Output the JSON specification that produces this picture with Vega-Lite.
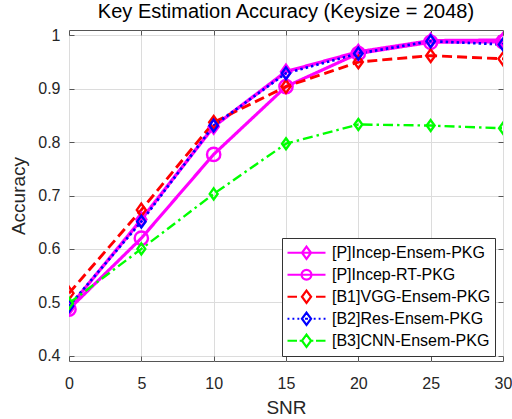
{
  "$schema": "https://vega.github.io/schema/vega-lite/v6.json",
  "width": 434,
  "height": 331,
  "autosize": "none",
  "padding": {"left": 69, "top": 30, "right": 9, "bottom": 58},
  "background": "white",
  "config": {
    "font": "Liberation Sans",
    "view": {"stroke": "#555555", "strokeWidth": 1},
    "axis": {
      "labelFont": "Liberation Sans",
      "titleFont": "Liberation Sans",
      "labelColor": "#262626",
      "titleColor": "#262626",
      "labelFontSize": 16,
      "titleFontSize": 19,
      "titleFontWeight": "normal",
      "gridColor": "#dcdcdc",
      "gridWidth": 1,
      "tickColor": "#555555",
      "domain": false,
      "labelFlush": false
    }
  },
  "title": {
    "text": "Key Estimation Accuracy (Keysize = 2048)",
    "font": "Liberation Sans",
    "fontSize": 20,
    "fontWeight": "normal",
    "color": "#000000",
    "offset": 5
  },
  "data": {
    "values": [
      {"snr": 0, "acc": 0.490, "series": "[P]Incep-Ensem-PKG"},
      {"snr": 5, "acc": 0.655, "series": "[P]Incep-Ensem-PKG"},
      {"snr": 10, "acc": 0.829, "series": "[P]Incep-Ensem-PKG"},
      {"snr": 15, "acc": 0.932, "series": "[P]Incep-Ensem-PKG"},
      {"snr": 20, "acc": 0.969, "series": "[P]Incep-Ensem-PKG"},
      {"snr": 25, "acc": 0.990, "series": "[P]Incep-Ensem-PKG"},
      {"snr": 30, "acc": 0.991, "series": "[P]Incep-Ensem-PKG"},
      {"snr": 0, "acc": 0.487, "series": "[P]Incep-RT-PKG"},
      {"snr": 5, "acc": 0.620, "series": "[P]Incep-RT-PKG"},
      {"snr": 10, "acc": 0.777, "series": "[P]Incep-RT-PKG"},
      {"snr": 15, "acc": 0.904, "series": "[P]Incep-RT-PKG"},
      {"snr": 20, "acc": 0.966, "series": "[P]Incep-RT-PKG"},
      {"snr": 25, "acc": 0.987, "series": "[P]Incep-RT-PKG"},
      {"snr": 30, "acc": 0.988, "series": "[P]Incep-RT-PKG"},
      {"snr": 0, "acc": 0.517, "series": "[B1]VGG-Ensem-PKG"},
      {"snr": 5, "acc": 0.673, "series": "[B1]VGG-Ensem-PKG"},
      {"snr": 10, "acc": 0.837, "series": "[B1]VGG-Ensem-PKG"},
      {"snr": 15, "acc": 0.904, "series": "[B1]VGG-Ensem-PKG"},
      {"snr": 20, "acc": 0.950, "series": "[B1]VGG-Ensem-PKG"},
      {"snr": 25, "acc": 0.962, "series": "[B1]VGG-Ensem-PKG"},
      {"snr": 30, "acc": 0.956, "series": "[B1]VGG-Ensem-PKG"},
      {"snr": 0, "acc": 0.493, "series": "[B2]Res-Ensem-PKG"},
      {"snr": 5, "acc": 0.651, "series": "[B2]Res-Ensem-PKG"},
      {"snr": 10, "acc": 0.831, "series": "[B2]Res-Ensem-PKG"},
      {"snr": 15, "acc": 0.929, "series": "[B2]Res-Ensem-PKG"},
      {"snr": 20, "acc": 0.966, "series": "[B2]Res-Ensem-PKG"},
      {"snr": 25, "acc": 0.989, "series": "[B2]Res-Ensem-PKG"},
      {"snr": 30, "acc": 0.983, "series": "[B2]Res-Ensem-PKG"},
      {"snr": 0, "acc": 0.498, "series": "[B3]CNN-Ensem-PKG"},
      {"snr": 5, "acc": 0.600, "series": "[B3]CNN-Ensem-PKG"},
      {"snr": 10, "acc": 0.703, "series": "[B3]CNN-Ensem-PKG"},
      {"snr": 15, "acc": 0.797, "series": "[B3]CNN-Ensem-PKG"},
      {"snr": 20, "acc": 0.833, "series": "[B3]CNN-Ensem-PKG"},
      {"snr": 25, "acc": 0.831, "series": "[B3]CNN-Ensem-PKG"},
      {"snr": 30, "acc": 0.826, "series": "[B3]CNN-Ensem-PKG"}
    ]
  },
  "resolve": {
    "scale": {"color": "independent", "shape": "independent", "strokeDash": "independent"},
    "axis": {"x": "independent", "y": "independent"},
    "legend": {"color": "independent", "shape": "independent", "strokeDash": "independent"}
  },
  "layer": [
    {
      "mark": {"type": "line", "clip": true},
      "encoding": {
        "x": {
          "field": "snr", "type": "quantitative",
          "scale": {"domain": [0, 30], "nice": false, "zero": false},
          "axis": {"orient": "bottom", "values": [0, 5, 10, 15, 20, 25, 30], "title": "SNR", "tickSize": -5, "labelPadding": 19, "titlePadding": 7, "grid": true}
        },
        "y": {
          "field": "acc", "type": "quantitative",
          "scale": {"domain": [0.39, 1.01], "nice": false, "zero": false},
          "axis": {"orient": "left", "values": [0.4, 0.5, 0.6, 0.7, 0.8, 0.9, 1.0], "format": ".1~f", "title": "Accuracy", "tickSize": -5, "labelPadding": 14, "titlePadding": 9, "grid": true}
        },
        "color": {
          "field": "series", "type": "nominal", "legend": null,
          "scale": {"domain": ["[P]Incep-Ensem-PKG", "[P]Incep-RT-PKG", "[B1]VGG-Ensem-PKG", "[B2]Res-Ensem-PKG", "[B3]CNN-Ensem-PKG"], "range": ["#ff00ff", "#ff00ff", "#ff0000", "#0000ff", "#00ff00"]}
        },
        "strokeDash": {
          "field": "series", "type": "nominal", "legend": null,
          "scale": {"domain": ["[P]Incep-Ensem-PKG", "[P]Incep-RT-PKG", "[B1]VGG-Ensem-PKG", "[B2]Res-Ensem-PKG", "[B3]CNN-Ensem-PKG"], "range": [[1, 0], [1, 0], [10, 5], [2.5, 3], [10, 4, 2.5, 4]]}
        },
        "strokeWidth": {
          "field": "series", "type": "nominal", "legend": null,
          "scale": {"domain": ["[P]Incep-Ensem-PKG", "[P]Incep-RT-PKG", "[B1]VGG-Ensem-PKG", "[B2]Res-Ensem-PKG", "[B3]CNN-Ensem-PKG"], "range": [3.4, 2.4, 2.5, 2.8, 2.6]}
        }
      }
    },
    {
      "mark": {"type": "point", "filled": false, "strokeWidth": 2.4, "opacity": 1, "clip": true},
      "encoding": {
        "x": {
          "field": "snr", "type": "quantitative",
          "axis": {"orient": "top", "values": [0, 5, 10, 15, 20, 25, 30], "labels": false, "title": null, "tickSize": -5, "grid": false}
        },
        "y": {
          "field": "acc", "type": "quantitative",
          "axis": {"orient": "right", "values": [0.4, 0.5, 0.6, 0.7, 0.8, 0.9, 1.0], "labels": false, "title": null, "tickSize": -5, "grid": false}
        },
        "color": {
          "field": "series", "type": "nominal", "legend": null,
          "scale": {"domain": ["[P]Incep-Ensem-PKG", "[P]Incep-RT-PKG", "[B1]VGG-Ensem-PKG", "[B2]Res-Ensem-PKG", "[B3]CNN-Ensem-PKG"], "range": ["#ff00ff", "#ff00ff", "#ff0000", "#0000ff", "#00ff00"]}
        },
        "shape": {
          "field": "series", "type": "nominal", "legend": null,
          "scale": {"domain": ["[P]Incep-Ensem-PKG", "[P]Incep-RT-PKG", "[B1]VGG-Ensem-PKG", "[B2]Res-Ensem-PKG", "[B3]CNN-Ensem-PKG"], "range": ["M0,-1L0.72,0L0,1L-0.72,0Z", "circle", "M0,-1L0.72,0L0,1L-0.72,0Z", "M0,-1L0.72,0L0,1L-0.72,0Z", "M0,-1L0.72,0L0,1L-0.72,0Z"]}
        },
        "size": {
          "field": "series", "type": "nominal", "legend": null,
          "scale": {"domain": ["[P]Incep-Ensem-PKG", "[P]Incep-RT-PKG", "[B1]VGG-Ensem-PKG", "[B2]Res-Ensem-PKG", "[B3]CNN-Ensem-PKG"], "range": [196, 120, 196, 196, 196]}
        }
      }
    },
    {
      "transform": [{"filter": "false"}],
      "mark": {"type": "point", "filled": false, "strokeWidth": 2, "opacity": 1},
      "encoding": {
        "x": {"field": "snr", "type": "quantitative", "axis": null},
        "y": {"field": "acc", "type": "quantitative", "axis": null},
        "color": {
          "field": "series", "type": "nominal", "title": null,
          "scale": {"domain": ["[P]Incep-Ensem-PKG", "[P]Incep-RT-PKG", "[B1]VGG-Ensem-PKG", "[B2]Res-Ensem-PKG", "[B3]CNN-Ensem-PKG"], "range": ["#ff00ff", "#ff00ff", "#ff0000", "#0000ff", "#00ff00"]},
          "legend": {
            "orient": "none", "legendX": 213, "legendY": 208,
            "fillColor": "white", "strokeColor": "#333333", "padding": 4,
            "symbolSize": 1444, "symbolStrokeWidth": 2.2, "clipHeight": 21.5,
            "rowPadding": 0, "labelOffset": 5, "labelFontSize": 16, "labelFont": "Liberation Sans", "labelColor": "#000000",
            "labelLimit": 300
          }
        },
        "shape": {
          "field": "series", "type": "nominal", "title": null,
          "scale": {"domain": ["[P]Incep-Ensem-PKG", "[P]Incep-RT-PKG", "[B1]VGG-Ensem-PKG", "[B2]Res-Ensem-PKG", "[B3]CNN-Ensem-PKG"], "range": [
            "M-1,0L1,0M0,-0.32L0.24,0L0,0.32L-0.24,0Z",
            "M-1,0L1,0M0.26,0A0.26,0.26,0,1,1,-0.26,0A0.26,0.26,0,1,1,0.26,0",
            "M-1,0L-0.5,0M0.5,0L1,0M0,-0.32L0.24,0L0,0.32L-0.24,0Z",
            "M-1,0L-0.9,0M-0.74,0L-0.64,0M-0.48,0L-0.38,0M-0.08,0L0.08,0M0.38,0L0.48,0M0.64,0L0.74,0M0.9,0L1,0M0,-0.32L0.24,0L0,0.32L-0.24,0Z",
            "M-1,0L-0.5,0M-0.36,0L-0.26,0M0.26,0L0.36,0M0.5,0L1,0M0,-0.32L0.24,0L0,0.32L-0.24,0Z"
          ]}
        }
      }
    }
  ]
}
